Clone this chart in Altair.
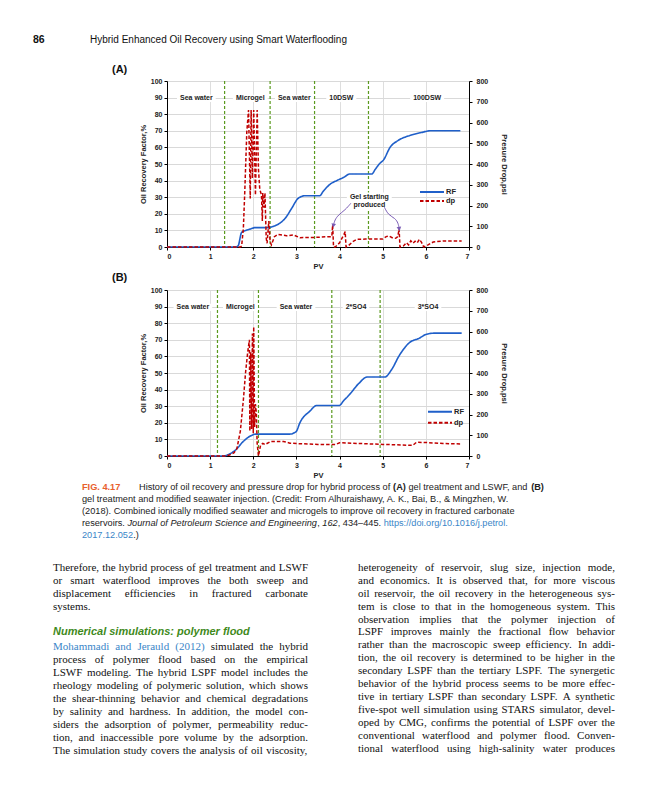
import altair as alt
import pandas as pd

FONT = "Liberation Sans"
SERIF = "Liberation Serif"
BLUE = "#1f5fc9"
RED = "#c00000"
GREEN = "#5a9a1e"
PURPLE = "#7a5cb5"
INK = "#222222"
LINK = "#3a86c8"

# ---------------- data: panel A ----------------
pv_rf_a = [0, 1.60, 1.65, 1.73, 1.85, 1.95, 2.04, 2.35, 2.45, 2.54, 2.65, 2.74, 2.89, 3.04, 3.20, 3.54,
           3.62, 3.78, 3.95, 4.10, 4.24, 4.75, 4.82, 4.92, 5.02, 5.17, 5.36, 5.63, 5.90, 6.10, 6.80]
rf_a = [0, 0, 0.8, 8.8, 10.2, 11.0, 11.7, 11.7, 12.3, 13.2, 15.0, 17.3, 23.3, 29.3, 30.9, 30.9,
        33.5, 37.8, 40.2, 42.0, 44.0, 44.0, 46.5, 50.0, 52.5, 60.0, 64.2, 67.2, 69.0, 70.0, 70.0]
pv_dp_a = [0, 1.70, 1.73, 1.77, 1.80, 1.85, 1.89, 1.93, 1.95, 1.98, 2.01, 2.05, 2.09, 2.12, 2.15, 2.19,
           2.21, 2.22, 2.25, 2.27, 2.30, 2.32, 2.36, 2.39, 2.42, 2.49, 2.57, 2.77, 2.93, 3.08, 3.40,
           3.78, 3.82, 3.84, 3.86, 3.90, 4.00, 4.10, 4.13, 4.15, 4.20, 4.30, 4.40, 4.60, 5.00, 5.08,
           5.15, 5.22, 5.30, 5.35, 5.38, 5.40, 5.48, 5.55, 5.60, 5.65, 5.70, 5.75, 5.80, 5.85, 5.90,
           5.95, 6.05, 6.17, 6.40, 6.83]
dp_a = [0, 0, 5, 90, 250, 556, 660, 234, 660, 331, 660, 250, 660, 375, 279, 250,
        125, 260, 190, 260, 42, 18, 125, 26, 10, 50, 61, 54, 58, 45, 46,
        50, 50, 106, 0, 0, 20, 60, 74, 0, 5, 25, 37, 38, 38, 50,
        53, 45, 42, 50, 88, 0, 5, 21, 10, 30, 18, 28, 20, 37, 22,
        0, 10, 24, 29, 29]
rules_a = [1.335, 2.39, 3.42, 4.67]
phase_pv_a = [0.68, 1.93, 2.95, 4.04, 6.03]
phase_txt_a = ["Sea water", "Microgel", "Sea water", "10DSW", "100DSW"]
gel_pv = [4.69, 4.69]
gel_rf = [30.3, 25.3]
gel_txt = ["Gel starting", "produced"]
arrow1_pv = [4.26, 4.13, 3.97, 3.89, 3.86]
arrow1_rf = [26.3, 22.3, 19.3, 16.3, 13.3]
arrow2_pv = [5.04, 5.13, 5.29, 5.36, 5.38]
arrow2_rf = [23.9, 19.3, 17.3, 14.3, 11.3]

# ---------------- data: panel B ----------------
pv_rf_b = [0, 1.30, 1.45, 1.59, 1.77, 1.96, 2.07, 2.85, 2.95, 3.00, 3.08, 3.31, 3.47, 3.99, 4.10,
           4.22, 4.45, 4.64, 5.05, 5.20, 5.39, 5.62, 5.85, 6.01, 6.20, 6.83]
rf_b = [0, 0, 1.2, 3.6, 8.8, 12.4, 13.2, 13.2, 14.0, 14.9, 20.0, 27.0, 30.4, 30.4, 33.5,
        36.7, 43.8, 47.6, 47.6, 51.8, 60.8, 68.3, 71.0, 73.3, 74.0, 74.0]
pv_dp_b = [0, 1.35, 1.45, 1.55, 1.62, 1.70, 1.77, 1.82, 1.87, 1.91, 1.92, 1.94, 1.96, 1.98, 2.00,
           2.01, 2.03, 2.05, 2.07, 2.09, 2.12, 2.17, 2.22, 2.27, 2.40, 2.70, 2.85, 3.00, 3.50,
           3.90, 4.00, 4.50, 5.00, 5.60, 5.70, 5.78, 6.00, 6.40, 6.83]
dp_b = [0, 0, 5, 15, 35, 120, 270, 400, 500, 560, 120, 500, 130, 590, 110,
        623, 140, 250, 210, 60, 0, 53, 61, 55, 70, 70, 62, 60, 56,
        55, 64, 60, 56, 52, 52, 66, 65, 60, 58]
rules_b = [1.17, 2.12, 3.82, 4.94]
phase_pv_b = [0.60, 1.70, 2.99, 4.38, 6.05]
phase_txt_b = ["Sea water", "Microgel", "Sea water", "2*SO4", "3*SO4"]

# ---------------- page text ----------------
header_num = "86"
header_title = "Hybrid Enhanced Oil Recovery using Smart Waterflooding"
# caption: each line is a list of (text, style, colour); a bare number sets the x position
caption = [
    [("FIG. 4.17", "b", "#e8602c"), 139,
     ("History of oil recovery and pressure drop for hybrid process of ", "n", INK), ("(A)", "b", INK),
     (" gel treatment and LSWF, and ", "n", INK), ("(B)", "b", INK)],
    [("gel treatment and modified seawater injection. (Credit: From Alhuraishawy, A. K., Bai, B., & Mingzhen, W.",
      "n", INK)],
    [("(2018). Combined ionically modified seawater and microgels to improve oil recovery in fractured carbonate",
      "n", INK)],
    [("reservoirs. ", "n", INK), ("Journal of Petroleum Science and Engineering", "i", INK), (", ", "n", INK),
     ("162", "i", INK), (", 434\u2013445. ", "n", INK), ("https://doi.org/10.1016/j.petrol.", "n", LINK)],
    [("2017.12.052", "n", LINK), (".)", "n", INK)],
]
left_col = [
    ("Therefore, the hybrid process of gel treatment and LSWF", True),
    ("or smart waterflood improves the both sweep and", True),
    ("displacement efficiencies in fractured carbonate", True),
    ("systems.", False),
]
heading = "Numerical simulations: polymer flood"
left_col2 = [
    ("Mohammadi and Jerauld (2012) simulated the hybrid", True),
    ("process of polymer flood based on the empirical", True),
    ("LSWF modeling. The hybrid LSPF model includes the", True),
    ("rheology modeling of polymeric solution, which shows", True),
    ("the shear-thinning behavior and chemical degradations", True),
    ("by salinity and hardness. In addition, the model con-", True),
    ("siders the adsorption of polymer, permeability reduc-", True),
    ("tion, and inaccessible pore volume by the adsorption.", True),
    ("The simulation study covers the analysis of oil viscosity,", True),
]
link_words = 4  # "Mohammadi and Jerauld (2012)" is a citation link
right_col = [
    "heterogeneity of reservoir, slug size, injection mode,",
    "and economics. It is observed that, for more viscous",
    "oil reservoir, the oil recovery in the heterogeneous sys-",
    "tem is close to that in the homogeneous system. This",
    "observation implies that the polymer injection of",
    "LSPF improves mainly the fractional flow behavior",
    "rather than the macroscopic sweep efficiency. In addi-",
    "tion, the oil recovery is determined to be higher in the",
    "secondary LSPF than the tertiary LSPF. The synergetic",
    "behavior of the hybrid process seems to be more effec-",
    "tive in tertiary LSPF than secondary LSPF. A synthetic",
    "five-spot well simulation using STARS simulator, devel-",
    "oped by CMG, confirms the potential of LSPF over the",
    "conventional waterflood and polymer flood. Conven-",
    "tional waterflood using high-salinity water produces",
]

# ---------------- font metrics (AFM widths, per 1000 em) for text layout ----------------
_ASC = " !\"#$%&'()*+,-./0123456789:;<=>?@ABCDEFGHIJKLMNOPQRSTUVWXYZ[\\]^_`abcdefghijklmnopqrstuvwxyz{|}~"
_HELV = [278, 278, 355, 556, 556, 889, 667, 191, 333, 333, 389, 584, 278, 333, 278, 278] + [556] * 10 + \
        [278, 278, 584, 584, 584, 556, 1015,
         667, 667, 722, 722, 667, 611, 778, 722, 278, 500, 667, 556, 833, 722, 778, 667, 778, 722, 667, 611,
         722, 667, 944, 667, 667, 611, 278, 278, 278, 469, 556, 333,
         556, 556, 500, 556, 556, 278, 556, 556, 222, 222, 500, 222, 833, 556, 556, 556, 556, 333, 500, 278,
         556, 500, 722, 500, 500, 500, 334, 260, 334, 584]
_HELVB = [278, 333, 474, 556, 556, 889, 722, 238, 333, 333, 389, 584, 278, 333, 278, 278] + [556] * 10 + \
         [333, 333, 584, 584, 584, 611, 975,
          722, 722, 722, 722, 667, 611, 778, 722, 278, 556, 722, 611, 833, 722, 778, 667, 778, 722, 667, 611,
          722, 667, 944, 667, 667, 611, 333, 278, 333, 584, 556, 333,
          556, 611, 556, 611, 556, 333, 611, 611, 278, 278, 556, 278, 889, 611, 611, 611, 611, 389, 556, 333,
          611, 556, 778, 556, 556, 500, 389, 280, 389, 584]
_TIMES = [250, 333, 408, 500, 500, 833, 778, 180, 333, 333, 500, 564, 250, 333, 250, 278] + [500] * 10 + \
         [278, 278, 564, 564, 564, 444, 921,
          722, 667, 667, 722, 611, 556, 722, 722, 333, 389, 722, 611, 889, 722, 722, 556, 722, 667, 556, 611,
          722, 722, 944, 722, 722, 611, 333, 278, 333, 469, 500, 333,
          444, 500, 444, 500, 444, 333, 500, 500, 278, 278, 500, 278, 778, 500, 500, 500, 500, 333, 389, 278,
          500, 500, 722, 500, 500, 444, 480, 200, 480, 541]
METRICS = {"helv": dict(zip(_ASC, _HELV)), "helvb": dict(zip(_ASC, _HELVB)), "times": dict(zip(_ASC, _TIMES))}
METRICS["helv"]["\u2013"] = 556
METRICS["times"]["\u2013"] = 500


def tw(s, m, size):
    return sum(METRICS[m].get(c, 500) for c in s) * size / 1000.0


PLOT_W, PLOT_H = 302, 166
PX_PER_PV = PLOT_W / 7.0
OX, OY = 167, 8          # page position of the page-text layer origin
LINE = 12.95
BODY_SIZE = 11.0
CAP_SIZE = 9.2


def text_layer(rows, **kw):
    base = dict(align="left", baseline="middle", font=FONT, fontSize=CAP_SIZE)
    base.update(kw)
    df = pd.DataFrame({"t": [r[0] for r in rows], "px": [r[1] - OX for r in rows],
                       "py": [r[2] - OY for r in rows], "c": [r[3] for r in rows]})
    return alt.Chart(df).mark_text(**base).encode(
        x=alt.X("px:Q", scale=None, axis=None),
        y=alt.Y("py:Q", scale=None, axis=None),
        color=alt.Color("c:N", scale=None),
        text="t:N")


def justify(lines, x0, width, y0, colour_fn):
    rows = []
    for i, (line, just) in enumerate(lines):
        words = line.split(" ")
        ws = [tw(w, "times", BODY_SIZE) for w in words]
        gap = (width - sum(ws)) / (len(words) - 1) if (just and len(words) > 1) else tw(" ", "times", BODY_SIZE)
        x = x0
        for k, (w, wd) in enumerate(zip(words, ws)):
            rows.append((w, x, y0 + LINE * i, colour_fn(i, k)))
            x += wd + gap
    return rows


# caption rows
cap_rows = {"n": [], "b": [], "i": []}
for i, line in enumerate(caption):
    x = 82.0
    y = 487 + 12.0 * i
    for item in line:
        if isinstance(item, (int, float)):
            x = float(item)
            continue
        s, st, col = item
        m = "helvb" if st == "b" else "helv"
        lead = len(s) - len(s.lstrip(" "))
        x += tw(" " * lead, m, CAP_SIZE)
        core = s.strip(" ")
        if core:
            cap_rows[st].append((core, x, y, col))
        x += tw(s.lstrip(" "), m, CAP_SIZE)

body_rows = justify(left_col, 53, 255, 567.7, lambda i, k: "#111111")
body_rows += justify(left_col2, 53, 255, 647.2,
                     lambda i, k: LINK if (i == 0 and k < link_words) else "#111111")
body_rows += justify([(s, True) for s in right_col], 358, 257, 567.7, lambda i, k: "#111111")

bg = alt.Chart(pd.DataFrame({"a": [0]})).mark_rect(fill="white", opacity=1).encode(
    x=alt.value(8 - OX), x2=alt.value(640 - OX), y=alt.value(0), y2=alt.value(784))

page_layers = [
    bg,
    text_layer([(header_num, 33, 40, "#111111")], fontSize=10.5, fontWeight="bold"),
    text_layer([(header_title, 90, 40, "#111111")], fontSize=10),
    text_layer([("(A)", 112, 70, "#111111"), ("(B)", 112, 278, "#111111")], fontSize=11, fontWeight="bold"),
    text_layer(cap_rows["n"]),
    text_layer(cap_rows["b"], fontWeight="bold"),
    text_layer(cap_rows["i"], fontStyle="italic"),
    text_layer(body_rows, font=SERIF, fontSize=BODY_SIZE),
    text_layer([(heading, 53, 632.3, "#3f8a1c")], fontSize=11, fontWeight="bold", fontStyle="italic"),
]
page = alt.layer(*page_layers).properties(width=PLOT_W, height=73)

spacer = alt.Chart(pd.DataFrame({"a": [0]})).mark_point(opacity=0).encode(
    x=alt.value(0), y=alt.value(0)).properties(width=PLOT_W, height=43)

X_AXIS = alt.Axis(values=list(range(8)), title="PV", grid=True, gridColor="#dedede",
                  domainColor="black", tickColor="black", tickSize=3, labelPadding=2,
                  labelFont=FONT, labelFontSize=7, labelFontWeight="bold", labelColor=INK,
                  titleFont=FONT, titleFontSize=7.5, titleFontWeight="bold", titleColor=INK,
                  titlePadding=3)
XQ = alt.X("PV:Q", scale=alt.Scale(domain=[0, 7], nice=False), axis=X_AXIS)
XQ2 = alt.X2("PV2:Q")
RF_SCALE = alt.Scale(domain=[0, 100], nice=False)


def boxes(pv_centres, texts, y0, y1, size):
    half = [(tw(t, "helvb", size) / 2 + 3) / PX_PER_PV for t in texts]
    df = pd.DataFrame({"PV": [c - h for c, h in zip(pv_centres, half)],
                       "PV2": [c + h for c, h in zip(pv_centres, half)],
                       "y": [y0] * len(texts), "y2": [y1] * len(texts)})
    return alt.Chart(df).mark_rect(fill="white").encode(
        x=XQ, x2=XQ2, y=alt.Y("y:Q", scale=RF_SCALE, axis=None), y2="y2:Q")


def panel(pv_rf, rf, pv_dp, dp, rules, ph_pv, ph_txt, leg_x, leg_y, leg_pad, extra):
    df_rf = pd.DataFrame({"PV": pv_rf, "v": rf, "s": "RF"})
    df_dp = pd.DataFrame({"PV": pv_dp, "v": dp, "s": "dp"})
    legend = alt.Legend(orient="none", legendX=leg_x, legendY=leg_y, title=None,
                        symbolType="M-3,0H3", symbolSize=64, symbolStrokeWidth=2,
                        labelFont=FONT, labelFontSize=7.5, labelFontWeight="bold", labelColor=INK,
                        labelOffset=9, padding=0, rowPadding=leg_pad)
    color = alt.Color("s:N", scale=alt.Scale(domain=["RF", "dp"], range=[BLUE, RED]), legend=legend)
    dash = alt.StrokeDash("s:N", scale=alt.Scale(domain=["RF", "dp"], range=[[1, 0], [3.5, 2]]),
                          legend=legend)
    left_axis = alt.Axis(orient="left", values=list(range(0, 101, 10)), title="Oil Recovery Factor,%",
                         grid=True, gridColor="#d9d9d9", domainColor="black", tickColor="black",
                         tickSize=3, labelPadding=2, labelFont=FONT, labelFontSize=7,
                         labelFontWeight="bold", labelColor=INK, titleFont=FONT, titleFontSize=7.5,
                         titleFontWeight="bold", titleColor=INK, titlePadding=3)
    right_axis = alt.Axis(orient="right", values=list(range(0, 801, 100)), title="Presure Drop,psi",
                          grid=False, domainColor="black", tickColor="black", tickSize=3,
                          labelPadding=4, labelFont=FONT, labelFontSize=7, labelFontWeight="bold",
                          labelColor=INK, titleFont=FONT, titleFontSize=7.5, titleFontWeight="bold",
                          titleColor=INK, titlePadding=12)
    rules_layer = alt.Chart(pd.DataFrame({"PV": rules})).mark_rule(
        color=GREEN, strokeWidth=1.2, strokeDash=[3, 2]).encode(x=XQ)
    label_boxes = boxes(ph_pv, ph_txt, 87.3, 91.7, 7)
    rf_line = alt.Chart(df_rf).mark_line(strokeWidth=1.6, interpolate="monotone").encode(
        x=XQ, y=alt.Y("v:Q", scale=RF_SCALE, axis=left_axis), color=color, strokeDash=dash)
    dp_line = alt.Chart(df_dp).mark_line(strokeWidth=1.5).encode(
        x=XQ, y=alt.Y("v:Q", scale=alt.Scale(domain=[0, 800], nice=False), axis=right_axis),
        color=color, strokeDash=dash)
    labels = alt.Chart(pd.DataFrame({"PV": ph_pv, "y": [89.5] * len(ph_pv), "t": ph_txt})).mark_text(
        font=FONT, fontSize=7, fontWeight="bold", color=INK).encode(
        x=XQ, y=alt.Y("y:Q", scale=RF_SCALE, axis=None), text="t:N")
    layers = [rules_layer, label_boxes, rf_line, dp_line, labels] + extra
    return alt.layer(*layers).resolve_scale(y="independent").properties(width=PLOT_W, height=PLOT_H)


def ann_layers():
    out = [boxes([gel_pv[0]], [gel_txt[0]], 22.8, 32.8, 7)]
    out.append(alt.Chart(pd.DataFrame({"PV": gel_pv, "y": gel_rf, "t": gel_txt})).mark_text(
        font=FONT, fontSize=7, fontWeight="bold", color=INK).encode(
        x=XQ, y=alt.Y("y:Q", scale=RF_SCALE, axis=None), text="t:N"))
    for pvs, rfs, ang in [(arrow1_pv, arrow1_rf, 190), (arrow2_pv, arrow2_rf, 170)]:
        d = pd.DataFrame({"PV": pvs, "y": rfs, "o": list(range(len(pvs)))})
        out.append(alt.Chart(d).mark_line(color=PURPLE, strokeWidth=1, interpolate="basis").encode(
            x=XQ, y=alt.Y("y:Q", scale=RF_SCALE, axis=None), order="o:Q"))
        out.append(alt.Chart(d.tail(1)).mark_point(shape="triangle", filled=True, color=PURPLE,
                                                   size=22, angle=ang, opacity=1).encode(
            x=XQ, y=alt.Y("y:Q", scale=RF_SCALE, axis=None)))
    return out


chart_a = panel(pv_rf_a, rf_a, pv_dp_a, dp_a, rules_a, phase_pv_a, phase_txt_a, 260, 106, 0, ann_layers())
chart_b = panel(pv_rf_b, rf_b, pv_dp_b, dp_b, rules_b, phase_pv_b, phase_txt_b, 268, 116.7, 2, [])

chart = alt.vconcat(page, chart_a, spacer, chart_b, spacing=0, bounds="flush").resolve_scale(
    color="independent", strokeDash="independent").resolve_legend(
    color="independent", strokeDash="independent").properties(padding=0).configure_view(stroke=None)

chart.save("out.html", embed_options={"renderer": "svg", "actions": False})
